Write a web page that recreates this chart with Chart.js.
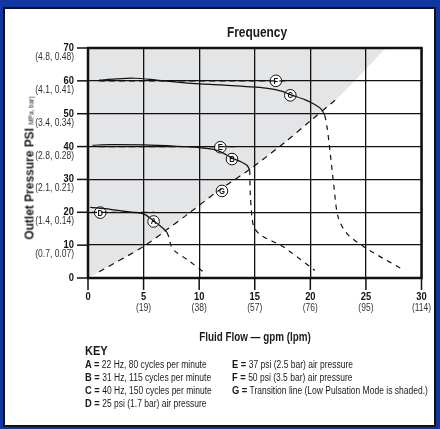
<!DOCTYPE html>
<html lang="en">
<head>
  <meta charset="UTF-8">
  <title>Frequency</title>
  <script src="https://cdn.jsdelivr.net/npm/chart.js"></script>
  <style>
    html, body { margin: 0; padding: 0; }
    body { width: 440px; height: 429px; background: #1036a0; position: relative; overflow: hidden;
           font-family: "Liberation Sans", Arial, sans-serif; color: #1a1a1a; }
    .frame { position: absolute; left: 3px; top: 7px; width: 433px; height: 420px; box-sizing: border-box;
             border: 2px solid #111; background: #fff; }
    canvas { position: absolute; left: 0; top: 0; }
    .title { position: absolute; left: 200px; width: 114px; top: 24px; text-align: center; font-weight: bold; font-size: 14px;
             transform: scaleX(0.85); }
    .xtitle { position: absolute; left: 150px; width: 210px; top: 330px; text-align: center; font-weight: bold; font-size: 12px;
              transform: scaleX(0.82); }
    .ytitle { position: absolute; left: 29px; top: 168px; transform: translate(-50%, -50%) rotate(-90deg) scaleX(0.92);
              white-space: nowrap; font-weight: bold; font-size: 13px; }
    .ytitle small { font-size: 7px; font-weight: normal; }
    .keyhead { position: absolute; left: 85px; top: 343px; font-weight: bold; font-size: 13px; transform: scaleX(0.85); transform-origin: 0 0; }
    .key { position: absolute; font-size: 10px; white-space: nowrap; transform: scaleX(0.85); transform-origin: 0 0; }
    .key b { font-size: 11px; }
  </style>
</head>
<body>
  <div class="frame"></div>
  <canvas id="chart" width="440" height="429"></canvas>
  <div class="title">Frequency</div>
  <div class="ytitle">Outlet Pressure PSI <small>MPa, bar)</small></div>
  <div class="xtitle">Fluid Flow — gpm (lpm)</div>
  <div class="keyhead">KEY</div>
  <div class="key" style="left:85px; top:358px"><b>A =</b> 22 Hz, 80 cycles per minute</div>
  <div class="key" style="left:85px; top:371px"><b>B =</b> 31 Hz, 115 cycles per minute</div>
  <div class="key" style="left:85px; top:384px"><b>C =</b> 40 Hz, 150 cycles per minute</div>
  <div class="key" style="left:85px; top:397px"><b>D =</b> 25 psi (1.7 bar) air pressure</div>
  <div class="key" style="left:232px; top:358px"><b>E =</b> 37 psi (2.5 bar) air pressure</div>
  <div class="key" style="left:232px; top:371px"><b>F =</b> 50 psi (3.5 bar) air pressure</div>
  <div class="key" style="left:232px; top:384px"><b>G =</b> Transition line (Low Pulsation Mode is shaded.)</div>

  <script>
    // axis ticks
    const xTicks = [0, 5, 10, 15, 20, 25, 30];
    const xTickSub = ['', '(19)', '(38)', '(57)', '(76)', '(95)', '(114)'];
    const yTicks = [0, 10, 20, 30, 40, 50, 60, 70];
    const yTickSub = ['', '(0.7, 0.07)', '(1.4, 0.14)', '(2.1, 0.21)', '(2.8, 0.28)', '(3.4, 0.34)', '(4.1, 0.41)', '(4.8, 0.48)'];

    // curves, [gpm, psi]
    const transitionG = [[0, 0], [1, 1.9], [5, 9.6], [7, 14.5], [9, 19.5], [11.7, 26.5], [14.6, 33.2], [17.75, 41.4], [20, 47.8], [22.4, 54.6], [26.8, 70]];
    const lineG = [[1, 1.9], [5, 9.6], [7, 14.5], [9, 19.5], [11.7, 26.5], [14.6, 33.2], [17.75, 41.4], [20, 47.8], [22.4, 54.6]];
    const airF = [[1, 60], [17.9, 60]];
    const airE = [[1, 40], [13.5, 40]];
    const airD = [[0.3, 20], [6, 20]];
    const solidC = [[1, 60.2], [2.5, 60.6], [4.2, 60.8], [6, 60.3], [8, 59.6], [10, 59.1], [12, 58.8], [14, 58.3], [16, 57.8], [17.5, 56.8], [18.2, 55.8], [19.5, 54.3], [20.4, 52.8], [21, 51.3], [21.3, 49.5]];
    const dashC = [[21.3, 49.5], [21.5, 46], [21.7, 40.7], [22.1, 28.6], [22.5, 18.5], [23.3, 13.5], [25.1, 8.9], [28.2, 2.8]];
    const solidB = [[0.4, 40.4], [2, 40.6], [5, 40.5], [8, 40.1], [10, 39.7], [11.2, 39.2], [12, 38.3], [12.95, 36.5], [13.8, 35.3], [14.3, 34.3], [14.55, 32.8]];
    const dashB = [[14.55, 32.8], [14.6, 25.6], [14.75, 18.5], [14.95, 15.3], [15.6, 12.9], [17.6, 9.4], [20.4, 2.3]];
    const solidA = [[0.2, 21.5], [2, 20.9], [4, 20], [5, 19.5], [5.9, 17.4], [6.8, 15], [7.1, 13.9]];
    const dashA = [[7.1, 13.9], [7.3, 12.2], [7.45, 10], [7.7, 8.5], [9, 5.4], [10.4, 1.8]];

    // circled labels
    const tagLetters = ['F', 'C', 'E', 'B', 'G', 'D', 'A'];
    const tagFlow = [16.9, 18.2, 11.9, 12.95, 12.05, 1.1, 5.9];
    const tagPsi = [60, 55.6, 39.8, 36.2, 26.5, 19.9, 17.2];

    const FONT = '"Liberation Sans", Arial, sans-serif';
    const pts = arr => arr.map(p => ({ x: p[0], y: p[1] }));
    const line = (arr, dash) => ({
      data: pts(arr), showLine: true, borderColor: '#111', borderWidth: 1.2,
      borderDash: dash || [], pointRadius: 0, fill: false, tension: 0.3
    });

    // narrow text like the original condensed face
    function narrowText(ctx, text, x, y, align) {
      ctx.save();
      ctx.translate(x, y);
      ctx.scale(0.85, 1);
      ctx.textAlign = align;
      ctx.fillText(text, 0, 0);
      ctx.restore();
    }

    const axisDecor = {
      id: 'axisDecor',
      afterDatasetsDraw(chart) {
        const { ctx, chartArea: a, scales: { x, y } } = chart;
        ctx.save();
        ctx.strokeStyle = '#111';
        ctx.lineWidth = 1.5;
        yTicks.forEach((v, i) => {
          const py = y.getPixelForValue(v);
          ctx.beginPath(); ctx.moveTo(a.left - 11, py); ctx.lineTo(a.left, py); ctx.stroke();
          ctx.font = 'bold 11px ' + FONT;
          ctx.fillStyle = '#111';
          narrowText(ctx, String(v), a.left - 14, py + 3, 'right');
          if (yTickSub[i]) {
            ctx.font = '10px ' + FONT;
            ctx.fillStyle = '#333';
            narrowText(ctx, yTickSub[i], a.left - 14, py + 12, 'right');
          }
        });
        xTicks.forEach((v, i) => {
          const px = x.getPixelForValue(v);
          ctx.beginPath(); ctx.moveTo(px, a.bottom); ctx.lineTo(px, a.bottom + 12); ctx.stroke();
          ctx.font = 'bold 11px ' + FONT;
          ctx.fillStyle = '#111';
          narrowText(ctx, String(v), px, a.bottom + 22, 'center');
          if (xTickSub[i]) {
            ctx.font = '10px ' + FONT;
            ctx.fillStyle = '#333';
            narrowText(ctx, xTickSub[i], px, a.bottom + 33, 'center');
          }
        });
        ctx.lineWidth = 2.5;
        ctx.strokeRect(a.left, a.top, a.right - a.left, a.bottom - a.top);
        // letters in circled tags
        const meta = chart.getDatasetMeta(chart.data.datasets.length - 1);
        ctx.font = 'bold 9px ' + FONT;
        ctx.textBaseline = 'middle';
        ctx.fillStyle = '#111';
        meta.data.forEach((el, i) => narrowText(ctx, tagLetters[i], el.x, el.y + 0.5, 'center'));
        ctx.restore();
      }
    };

    new Chart(document.getElementById('chart').getContext('2d'), {
      type: 'scatter',
      data: {
        datasets: [
          { data: pts(transitionG), showLine: true, borderWidth: 0, pointRadius: 0,
            backgroundColor: '#e4e5e7', fill: 'end', tension: 0.3 },
          line(lineG, [6, 5]),
          line(airF, [6, 4]),
          line(airE, [6, 4]),
          line(airD, [6, 4]),
          line(solidC), line(dashC, [5, 5]),
          line(solidB), line(dashB, [5, 5]),
          line(solidA), line(dashA, [5, 5]),
          { data: tagFlow.map((v, i) => ({ x: v, y: tagPsi[i] })), pointRadius: 5.8,
            pointBackgroundColor: '#fff', pointBorderColor: '#111', pointBorderWidth: 1 }
        ]
      },
      options: {
        responsive: false,
        animation: false,
        layout: { padding: { left: 88, right: 18.5, top: 48, bottom: 151 } },
        plugins: { legend: { display: false }, tooltip: { enabled: false }, filler: { drawTime: 'beforeDraw' } },
        scales: {
          x: { type: 'linear', min: 0, max: 30,
               ticks: { stepSize: 5, display: false },
               grid: { color: '#111', lineWidth: 1.3, drawTicks: false },
               border: { display: false } },
          y: { type: 'linear', min: 0, max: 70,
               ticks: { stepSize: 10, display: false },
               grid: { color: '#111', lineWidth: 1.3, drawTicks: false },
               border: { display: false } }
        }
      },
      plugins: [axisDecor]
    });
  </script>
</body>
</html>
